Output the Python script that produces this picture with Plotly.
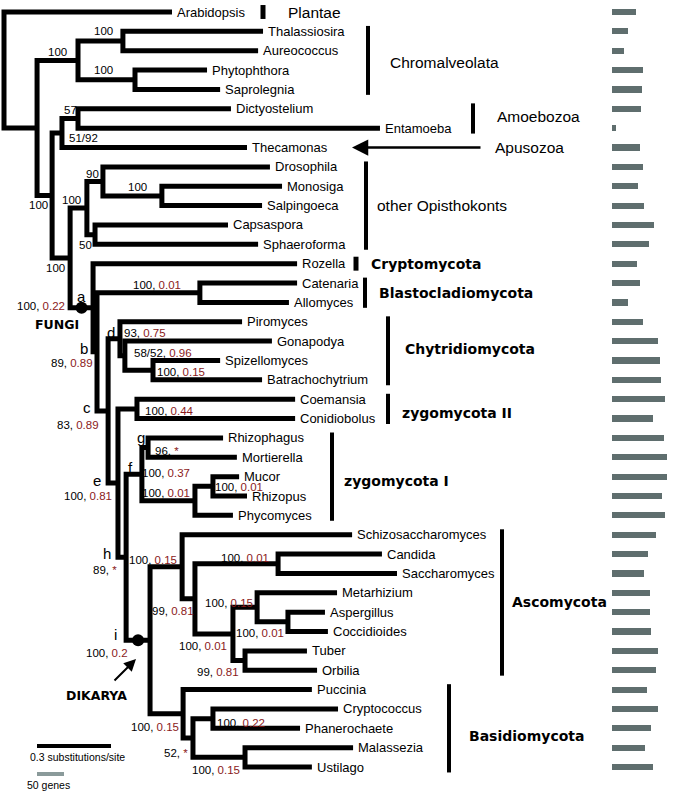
import plotly.graph_objects as go

# ---------------- data ----------------
leaves = ["Arabidopsis", "Thalassiosira", "Aureococcus", "Phytophthora", "Saprolegnia",
          "Dictyostelium", "Entamoeba", "Thecamonas", "Drosophila", "Monosiga",
          "Salpingoeca", "Capsaspora", "Sphaeroforma", "Rozella", "Catenaria",
          "Allomyces", "Piromyces", "Gonapodya", "Spizellomyces", "Batrachochytrium",
          "Coemansia", "Conidiobolus", "Rhizophagus", "Mortierella", "Mucor",
          "Rhizopus", "Phycomyces", "Schizosaccharomyces", "Candida", "Saccharomyces",
          "Metarhizium", "Aspergillus", "Coccidioides", "Tuber", "Orbilia",
          "Puccinia", "Cryptococcus", "Phanerochaete", "Malassezia", "Ustilago"]

# distance from root (substitutions/site)
leaf_depth = [0.681, 1.050, 1.030, 0.823, 0.876,
              0.920, 1.524, 0.985, 1.078, 1.127,
              1.046, 0.908, 1.030, 1.188, 1.188,
              1.155, 0.965, 1.086, 0.876, 1.046,
              1.180, 1.180, 0.888, 0.944, 0.953,
              0.985, 0.928, 1.411, 1.532, 1.593,
              1.350, 1.301, 1.313, 1.228, 1.269,
              1.248, 1.354, 1.200, 1.415, 1.248]

gene_counts = [44, 30, 23, 57, 56, 54, 7, 52, 57, 49,
               59, 77, 68, 46, 52, 29, 57, 86, 89, 91,
               98, 76, 97, 102, 102, 93, 98, 82, 67, 60,
               70, 70, 73, 86, 82, 65, 86, 73, 62, 76]

internal_children = {
    "root": ("Arabidopsis", "Euk"),
    "Euk": ("Chrom", "Unik"),
    "Chrom": ("ThalAur", "PhySap"),
    "ThalAur": ("Thalassiosira", "Aureococcus"),
    "PhySap": ("Phytophthora", "Saprolegnia"),
    "Unik": ("AmApu", "Opis"),
    "AmApu": ("DicEnt", "Thecamonas"),
    "DicEnt": ("Dictyostelium", "Entamoeba"),
    "Opis": ("OthOpis", "Fungi"),
    "OthOpis": ("DroCho", "CapSph"),
    "DroCho": ("Drosophila", "Choano"),
    "Choano": ("Monosiga", "Salpingoeca"),
    "CapSph": ("Capsaspora", "Sphaeroforma"),
    "Fungi": ("Rozella", "b"),
    "b": ("Blasto", "c"),
    "Blasto": ("Catenaria", "Allomyces"),
    "c": ("Chytrid", "e"),
    "Chytrid": ("Piromyces", "GonSB"),
    "GonSB": ("Gonapodya", "SpiBat"),
    "SpiBat": ("Spizellomyces", "Batrachochytrium"),
    "e": ("ZygoII", "h"),
    "ZygoII": ("Coemansia", "Conidiobolus"),
    "h": ("f", "i"),
    "f": ("g", "Mucorales"),
    "g": ("Rhizophagus", "Mortierella"),
    "Mucorales": ("MucRhi", "Phycomyces"),
    "MucRhi": ("Mucor", "Rhizopus"),
    "i": ("Asco", "Basidio"),
    "Asco": ("Schizosaccharomyces", "AscoB"),
    "AscoB": ("Saccharo", "Pezizo"),
    "Saccharo": ("Candida", "Saccharomyces"),
    "Pezizo": ("Leotio", "TubOrb"),
    "Leotio": ("Metarhizium", "AspCoc"),
    "AspCoc": ("Aspergillus", "Coccidioides"),
    "TubOrb": ("Tuber", "Orbilia"),
    "Basidio": ("Puccinia", "AgUst"),
    "AgUst": ("Agarico", "Ustilag"),
    "Agarico": ("Cryptococcus", "Phanerochaete"),
    "Ustilag": ("Malassezia", "Ustilago"),
}

internal_depth = {
    "root": 0.0, "Euk": 0.134, "Chrom": 0.300, "ThalAur": 0.482, "PhySap": 0.531,
    "Unik": 0.195, "AmApu": 0.235, "DicEnt": 0.300, "Opis": 0.268, "OthOpis": 0.336,
    "DroCho": 0.401, "Choano": 0.640, "CapSph": 0.369, "Fungi": 0.361, "b": 0.377,
    "Blasto": 0.794, "c": 0.422, "Chytrid": 0.470, "GonSB": 0.490, "SpiBat": 0.604,
    "e": 0.462, "ZygoII": 0.539, "h": 0.495, "f": 0.559, "g": 0.584,
    "Mucorales": 0.774, "MucRhi": 0.847, "i": 0.592, "Asco": 0.722, "AscoB": 0.774,
    "Saccharo": 1.111, "Pezizo": 0.928, "Leotio": 1.026, "AspCoc": 1.151, "TubOrb": 0.977,
    "Basidio": 0.726, "AgUst": 0.766, "Agarico": 0.847, "Ustilag": 0.977,
}

# support values: (black part, red part or None, x px, y px)
supports = [
    ("100", None, 103, 31), ("100", None, 57, 52), ("100", None, 103, 70),
    ("57", None, 70, 110), ("51/92", None, 83, 138), ("90", None, 92, 174),
    ("100", None, 137, 187), ("100", None, 38, 205), ("100", None, 71, 200),
    ("50", None, 85, 245), ("100", None, 55, 268),
    ("100", "0.22", 41, 306), ("100", "0.01", 157, 285), ("89", "0.89", 72, 363),
    ("93", "0.75", 145, 333), ("58/52", "0.96", 163, 353), ("100", "0.15", 181, 372),
    ("83", "0.89", 78, 425), ("100", "0.44", 169, 411), ("96", "*", 167, 451),
    ("100", "0.37", 166, 473), ("100", "0.01", 166, 493), ("100", "0.01", 239, 487),
    ("100", "0.81", 88, 496), ("89", "*", 105, 570), ("100", "0.15", 153, 560),
    ("100", "0.01", 245, 558), ("99", "0.81", 173, 611), ("100", "0.15", 229, 603),
    ("100", "0.01", 260, 633), ("100", "0.01", 203, 646), ("99", "0.81", 218, 672),
    ("100", "0.2", 107, 653), ("100", "0.15", 155, 727), ("52", "*", 176, 753),
    ("100", "0.22", 241, 723), ("100", "0.15", 216, 770),
]

node_letters = [("a", 81, 296), ("b", 84, 348), ("c", 87, 407), ("d", 111, 332),
                ("e", 97, 480), ("f", 130, 467), ("g", 141, 437), ("h", 107, 553),
                ("i", 115, 634)]

# clades: label, first leaf, last leaf, bar x px, label x px, label row, bold
clades = [
    ("Plantae", 0, 0, 263, 286, 0.0, False),
    ("Chromalveolata", 1, 4, 368, 388, 2.6, False),
    ("Amoebozoa", 5, 6, 473, 495, 5.4, False),
    ("other Opisthokonts", 8, 12, 366, 375, 10.0, False),
    ("Cryptomycota", 13, 13, 356, 369, 13.0, True),
    ("Blastocladiomycota", 14, 15, 365, 377, 14.5, True),
    ("Chytridiomycota", 16, 19, 388, 403, 17.4, True),
    ("zygomycota II", 20, 21, 388, 400, 20.7, True),
    ("zygomycota I", 22, 26, 332, 342, 24.2, True),
    ("Ascomycota", 27, 34, 502, 510, 30.5, True),
    ("Basidiomycota", 35, 39, 449, 467, 37.4, True),
]

# ---------------- geometry helpers ----------------
W, H = 680, 791
SUB_PX = 246.7
X0_PX = 4
ROW_PX = 19.36
Y0_PX = 12
GENE_PX = 27 / 50.0
GENE_X0 = 612


def xs(px):
    return (px - X0_PX) / SUB_PX


def ys(py):
    return (py - Y0_PX) / ROW_PX


depth = dict(zip(leaves, leaf_depth))
depth.update(internal_depth)
ypos = {n: i for i, n in enumerate(leaves)}


def get_y(n):
    if n in ypos:
        return ypos[n]
    c1, c2 = internal_children[n]
    ypos[n] = (get_y(c1) + get_y(c2)) / 2.0
    return ypos[n]


get_y("root")

tx, ty = [], []
for n, (c1, c2) in internal_children.items():
    tx += [depth[c1], depth[n], depth[n], depth[c2], None]
    ty += [ypos[c1], ypos[c1], ypos[c2], ypos[c2], None]

RED = "#8B1A1A"
BLACK = "#000000"
GRAY = "#5f6e6e"
FONT = "Liberation Sans"
BOLDFONT = "DejaVu Sans"

fig = go.Figure()
fig.add_trace(go.Scatter(x=tx, y=ty, mode="lines",
                         line=dict(color=BLACK, width=5), hoverinfo="skip",
                         showlegend=False))

# node dots: midpoints of Fungi and Dikarya branches
dot_nodes = [("Opis", "Fungi"), ("h", "i")]
fig.add_trace(go.Scatter(
    x=[(depth[p] + depth[c]) / 2 for p, c in dot_nodes],
    y=[ypos[c] for p, c in dot_nodes], mode="markers",
    marker=dict(color=BLACK, size=12), hoverinfo="skip", showlegend=False))

# scale bar 0.3 substitutions/site
fig.add_trace(go.Scatter(x=[xs(37), xs(37) + 0.3], y=[ys(746), ys(746)], mode="lines",
                         line=dict(color=BLACK, width=4), hoverinfo="skip",
                         showlegend=False))

# gene count bars
fig.add_trace(go.Bar(x=gene_counts, y=list(range(len(leaves))), orientation="h",
                     xaxis="x2", yaxis="y", width=0.32,
                     marker=dict(color=GRAY, line=dict(width=0)),
                     hoverinfo="skip", showlegend=False))

annotations = []
# leaf labels
for i, (name, d) in enumerate(zip(leaves, leaf_depth)):
    annotations.append(dict(x=d, y=i, xref="x", yref="y", text=name, showarrow=False,
                            xanchor="left", yanchor="middle", xshift=3,
                            font=dict(family=FONT, size=13, color=BLACK)))

# support values
for blk, red, px, py in supports:
    t = blk if red is None else f"{blk}, <span style='color:{RED}'>{red}</span>"
    annotations.append(dict(x=xs(px), y=ys(py), xref="x", yref="y", text=t,
                            showarrow=False, xanchor="center", yanchor="middle",
                            font=dict(family=FONT, size=11.5, color=BLACK)))

for t, px, py in node_letters:
    annotations.append(dict(x=xs(px), y=ys(py), xref="x", yref="y", text=t,
                            showarrow=False, xanchor="center", yanchor="middle",
                            font=dict(family=FONT, size=15, color=BLACK)))

# bold group labels
for t, px, py in [("FUNGI", 57, 324), ("DIKARYA", 96, 695)]:
    annotations.append(dict(x=xs(px), y=ys(py), xref="x", yref="y", text=f"<b>{t}</b>",
                            showarrow=False, xanchor="center", yanchor="middle",
                            font=dict(family=BOLDFONT, size=12.5, color=BLACK)))

shapes = []
for label, a, b, barx, lx, row, bold in clades:
    pad = 0.36 if a == b else 0.28
    shapes.append(dict(type="line", xref="x", yref="y", x0=xs(barx), x1=xs(barx),
                       y0=a - pad, y1=b + pad,
                       line=dict(color=BLACK, width=5 if a == b else 4)))
    if bold:
        txt = f"<b>{label}</b>"
        fnt = dict(family=BOLDFONT, size=14, color=BLACK)
    else:
        txt = label
        fnt = dict(family=FONT, size=15.5, color=BLACK)
    annotations.append(dict(x=xs(lx), y=row, xref="x", yref="y", text=txt, showarrow=False,
                            xanchor="left", yanchor="middle", font=fnt))

# Apusozoa arrow
annotations.append(dict(x=xs(352), y=7, xref="x", yref="y", ax=xs(482), ay=7,
                        axref="x", ayref="y", text="", showarrow=True, arrowhead=2,
                        arrowsize=1.3, arrowwidth=2.5, arrowcolor=BLACK))
annotations.append(dict(x=xs(493), y=7, xref="x", yref="y", text="Apusozoa",
                        showarrow=False, xanchor="left", yanchor="middle",
                        font=dict(family=FONT, size=15.5, color=BLACK)))
# Dikarya arrow
annotations.append(dict(x=xs(136), y=ys(659), xref="x", yref="y", ax=xs(113), ay=ys(682),
                        axref="x", ayref="y", text="", showarrow=True, arrowhead=2,
                        arrowsize=1.2, arrowwidth=2, arrowcolor=BLACK))

# scale labels
annotations.append(dict(x=xs(77), y=ys(757), xref="x", yref="y",
                        text="0.3 substitutions/site", showarrow=False,
                        font=dict(family=FONT, size=10.5, color=BLACK)))
shapes.append(dict(type="line", xref="paper", yref="y", x0=37 / W,
                   x1=(37 + 50 * GENE_PX) / W, y0=ys(774), y1=ys(774),
                   line=dict(color="#8a9a9a", width=4)))
annotations.append(dict(x=xs(48), y=ys(785), xref="x", yref="y", text="50 genes",
                        showarrow=False, font=dict(family=FONT, size=10.5, color=BLACK)))

fig.update_layout(
    width=W, height=H, margin=dict(l=0, r=0, t=0, b=0),
    paper_bgcolor="white", plot_bgcolor="white",
    xaxis=dict(range=[xs(0), xs(W)], visible=False, domain=[0, 1], fixedrange=True),
    xaxis2=dict(range=[0, (W - GENE_X0) / GENE_PX], visible=False,
                domain=[GENE_X0 / W, 1], anchor="y", fixedrange=True),
    yaxis=dict(range=[ys(H), ys(0)], visible=False, fixedrange=True),
    annotations=annotations, shapes=shapes, showlegend=False,
    bargap=0,
)

fig.write_html("out.html", config={"displayModeBar": False},
               post_script="document.body.style.margin='0px';"
                           "document.body.style.overflow='hidden';")
